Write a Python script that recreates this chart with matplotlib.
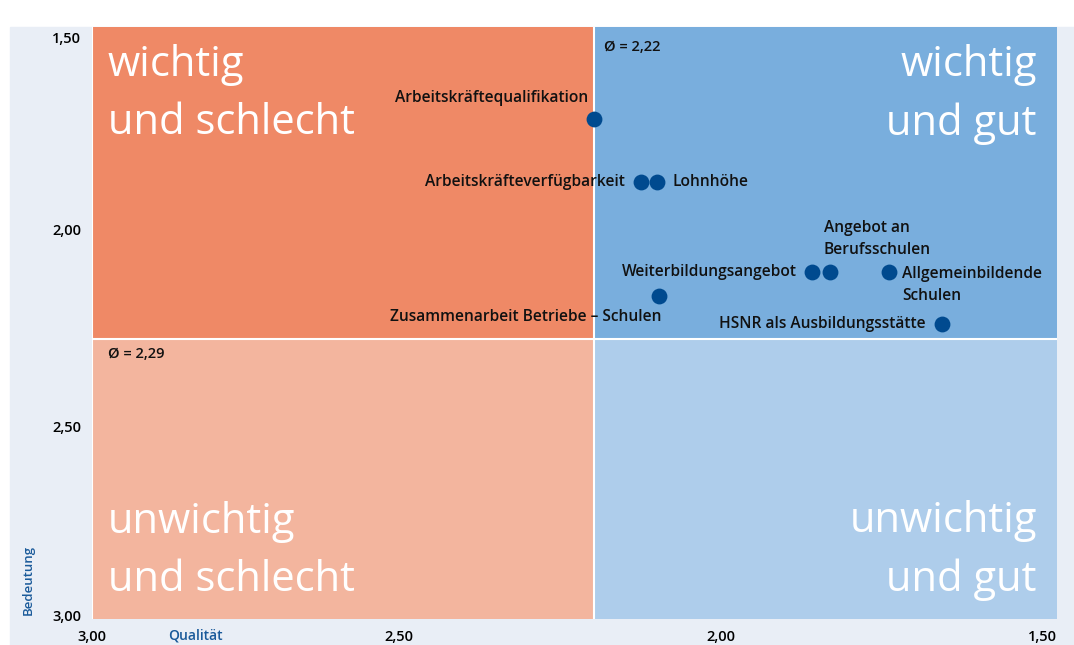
import matplotlib
matplotlib.use("Agg")
import matplotlib.pyplot as plt
import matplotlib.transforms as mtransforms
from matplotlib.patches import Rectangle

plt.rcParams['font.family'] = ['Open Sans', 'DejaVu Sans']

# Daten: Qualität (x) und Bedeutung (y), je kleiner desto besser
labels = ['Arbeitskräftequalifikation', 'Arbeitskräfteverfügbarkeit', 'Lohnhöhe',
          'Weiterbildungsangebot', 'Angebot an\nBerufsschulen', 'Allgemeinbildende\nSchulen',
          'Zusammenarbeit Betriebe – Schulen', 'HSNR als Ausbildungsstätte']
qualitaet = [2.22, 2.147, 2.122, 1.881, 1.853, 1.761, 2.119, 1.679]
bedeutung = [1.733, 1.893, 1.893, 2.121, 2.121, 2.121, 2.182, 2.252]
mittel_q = 2.22
mittel_b = 2.29
ticks = [3.00, 2.50, 2.00, 1.50]
tick_labels = ['3,00', '2,50', '2,00', '1,50']

# Label-Versatz in Pixel (dx, dy, ha, va)
offsets = [(-6, 21, 'right', 'center'), (-16, 0, 'right', 'center'), (16, 0, 'left', 'center'),
           (-15, 0, 'right', 'center'), (-6, 33, 'left', 'center'), (13, -13, 'left', 'center'),
           (3, -21, 'right', 'center'), (-16, 0, 'right', 'center')]

c_tl = '#EF8966'
c_tr = '#79AEDD'
c_bl = '#F3B59E'
c_br = '#AECDEB'
c_dot = '#004A8F'
c_bg = '#E9EEF6'
c_axis = '#1A5A9A'

fig = plt.figure(figsize=(10.74, 6.45), dpi=100, facecolor='white')
fig.patches.append(Rectangle((10 / 1074, 0), 1 - 10 / 1074, 1 - 27 / 645,
                             transform=fig.transFigure, color=c_bg, zorder=-10))

ax = fig.add_axes([92 / 1074, 1 - 619 / 645, (1057 - 92) / 1074, (619 - 27) / 645])
ax.set_zorder(5)
ax.set_xlim(3.0, 1.5)
ax.set_ylim(3.0, 1.5)

# Quadranten
ax.add_patch(Rectangle((mittel_q, 1.5), 3.0 - mittel_q, mittel_b - 1.5, color=c_tl, zorder=0))
ax.add_patch(Rectangle((1.5, 1.5), mittel_q - 1.5, mittel_b - 1.5, color=c_tr, zorder=0))
ax.add_patch(Rectangle((mittel_q, mittel_b), 3.0 - mittel_q, 3.0 - mittel_b, color=c_bl, zorder=0))
ax.add_patch(Rectangle((1.5, mittel_b), mittel_q - 1.5, 3.0 - mittel_b, color=c_br, zorder=0))
ax.axvline(mittel_q, color='white', lw=1.5, zorder=1)
ax.axhline(mittel_b, color='white', lw=1.5, zorder=1)
ax.axvline(3.0, color='white', lw=1.5, zorder=1)

for s in ax.spines.values():
    s.set_visible(False)

qfont = dict(color='white', fontsize=30, linespacing=1.5, transform=ax.transAxes, zorder=2)
ax.text(16 / 965, 1 - 17 / 592, 'wichtig\nund schlecht', ha='left', va='top', **qfont)
ax.text(1 - 20 / 965, 1 - 17 / 592, 'wichtig\nund gut', ha='right', va='top', **qfont)
ax.text(16 / 965, 18 / 592, 'unwichtig\nund schlecht', ha='left', va='bottom', **qfont)
ax.text(1 - 20 / 965, 18 / 592, 'unwichtig\nund gut', ha='right', va='bottom', **qfont)

ax.annotate('Ø = 2,22', (mittel_q, 1.5), xytext=(10, -20), textcoords='offset pixels',
            ha='left', va='center', fontsize=10.5, fontweight='semibold', color='#111111')
ax.annotate('Ø = 2,29', (3.0, mittel_b), xytext=(16, -15), textcoords='offset pixels',
            ha='left', va='center', fontsize=10.5, fontweight='semibold', color='#111111')

ax.scatter(qualitaet, bedeutung, s=130, color=c_dot, zorder=4, linewidths=0)
for lab, x, y, (dx, dy, ha, va) in zip(labels, qualitaet, bedeutung, offsets):
    ax.annotate(lab, (x, y), xytext=(dx, dy), textcoords='offset pixels', ha=ha, va=va,
                fontsize=11.2, fontweight='semibold', color='#111111', linespacing=1.45, zorder=5)

# Achsen
ax.set_xticks(ticks)
ax.set_xticklabels(tick_labels)
ax.set_yticks(ticks)
ax.set_yticklabels(tick_labels)
ax.tick_params(length=0, labelsize=10.5, pad=8)
for t in ax.get_xticklabels():
    t.set_fontweight('semibold')
    t.set_ha('right')
ax.get_xticklabels()[0].set_ha('center')
shift = mtransforms.ScaledTranslation(0, -5 / 100, fig.dpi_scale_trans)
for t in ax.get_yticklabels():
    t.set_fontweight('semibold')
    t.set_transform(t.get_transform() + shift)
ax.get_yticklabels()[0].set_va('bottom')
ax.get_yticklabels()[-1].set_va('top')

fig.text(195 / 1074, 1 - 636 / 645, 'Qualität', ha='center', va='center',
         fontsize=10, fontweight='semibold', color=c_axis)
fig.text(28 / 1074, 1 - 580 / 645, 'Bedeutung', ha='center', va='center', rotation=90,
         fontsize=9.5, fontweight='semibold', color=c_axis)

fig.savefig('out.png', dpi=100, facecolor='white')
